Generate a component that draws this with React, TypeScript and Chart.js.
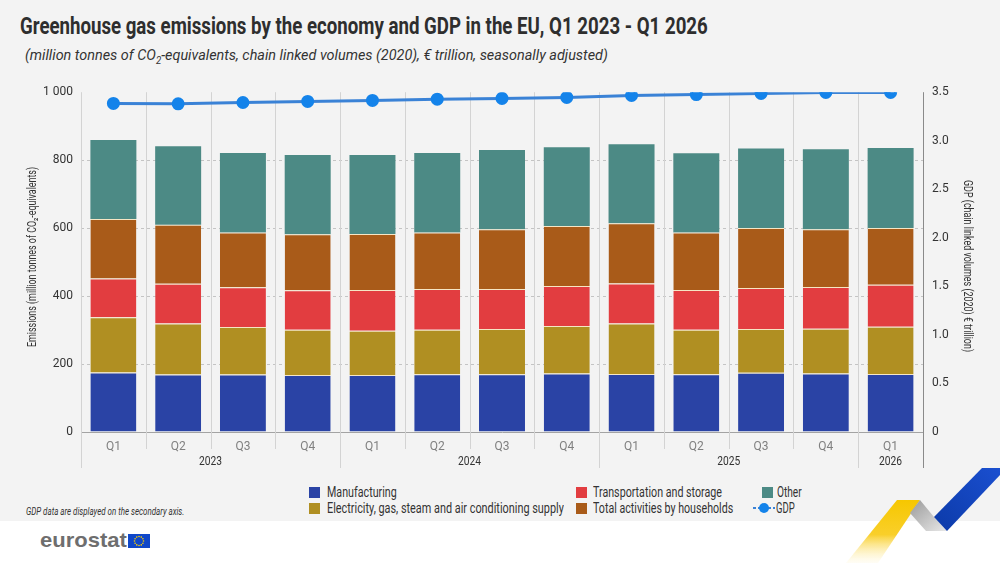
import React, { useEffect, useLayoutEffect, useRef } from "react";
import { Chart, registerables } from "chart.js";

Chart.register(...registerables);

const FONT = 'Roboto, "Noto Sans", sans-serif';

// ---- data ----
const quarters = ["Q1", "Q2", "Q3", "Q4", "Q1", "Q2", "Q3", "Q4", "Q1", "Q2", "Q3", "Q4", "Q1"];
const years = ["2023", "2024", "2025", "2026"];
const yearSpans = [4, 4, 4, 1];
const manufacturing = [175, 169, 169, 168, 168, 170, 170, 172, 171, 170, 174, 172, 171];
const electricity = [163, 150, 140, 133, 130, 131, 133, 140, 148, 131, 129, 132, 139];
const transport = [114, 117, 117, 116, 120, 120, 118, 118, 118, 117, 121, 123, 123];
const households = [175, 174, 161, 165, 165, 166, 176, 176, 177, 169, 176, 170, 167];
const other = [232, 231, 234, 233, 232, 234, 233, 232, 233, 233, 234, 235, 236];
const gdp = [3.384, 3.38, 3.394, 3.405, 3.415, 3.428, 3.436, 3.446, 3.466, 3.476, 3.487, 3.497, 3.497];

const COLORS = {
  manufacturing: "#2a43a5",
  electricity: "#b08f22",
  transport: "#e23d40",
  households: "#a95b19",
  other: "#4c8a85",
  gdpLine: "#3a82d6",
  gdpPoint: "#1483ea",
};

const SEP = "#f6e6c4";
const CANVAS_TOP = 76;

function drawFitted(ctx: any, text: string, target: number) {
  const w = ctx.measureText(text).width;
  const s = w > 0 ? target / w : 1;
  ctx.save();
  ctx.scale(s, 1);
  ctx.fillText(text, 0, 0);
  ctx.restore();
}

const decorPlugin = {
  id: "decor",
  beforeDatasetsDraw(chart: any) {
    const { ctx, chartArea, scales } = chart;
    const x = scales.x;
    const n = quarters.length;
    const bounds: number[] = [];
    for (let i = 0; i <= n; i++) {
      if (i === 0) bounds.push(chartArea.left);
      else if (i === n) bounds.push(chartArea.right);
      else bounds.push((x.getPixelForValue(i - 1) + x.getPixelForValue(i)) / 2);
    }
    const yearBounds = new Set<number>();
    let acc = 0;
    yearBounds.add(0);
    yearSpans.forEach((s) => {
      acc += s;
      yearBounds.add(acc);
    });
    ctx.save();
    ctx.lineWidth = 1;
    bounds.forEach((bx, i) => {
      if (i === n) return;
      ctx.strokeStyle = "#d3d3d3";
      ctx.beginPath();
      const px = Math.round(bx) + 0.5;
      ctx.moveTo(px, chartArea.top);
      ctx.lineTo(px, yearBounds.has(i) ? chartArea.bottom + 36 : chartArea.bottom + 17);
      ctx.stroke();
    });
    ctx.restore();
  },
  afterDraw(chart: any) {
    const { ctx, chartArea, scales } = chart;
    const x = scales.x;
    const n = quarters.length;
    ctx.save();
    ctx.strokeStyle = "#8a8a8a";
    ctx.lineWidth = 1;
    ctx.beginPath();
    const rx = Math.round(chartArea.right) + 0.5;
    ctx.moveTo(rx, chartArea.top);
    ctx.lineTo(rx, chartArea.bottom + 36);
    ctx.stroke();
    ctx.fillStyle = "#333333";
    ctx.font = `13px ${FONT}`;
    ctx.textAlign = "center";
    ctx.textBaseline = "middle";
    let start = 0;
    years.forEach((yr, k) => {
      const end = start + yearSpans[k];
      const l = start === 0 ? chartArea.left : (x.getPixelForValue(start - 1) + x.getPixelForValue(start)) / 2;
      const r = end === n ? chartArea.right : (x.getPixelForValue(end - 1) + x.getPixelForValue(end)) / 2;
      ctx.save();
      ctx.translate((l + r) / 2, chartArea.bottom + 30);
      drawFitted(ctx, yr, 23);
      ctx.restore();
      start = end;
    });
    ctx.font = `12px ${FONT}`;
    ctx.fillStyle = "#333333";
    ctx.save();
    ctx.translate(33, 257 - CANVAS_TOP);
    ctx.rotate(-Math.PI / 2);
    drawFitted(ctx, "Emissions (million tonnes of CO\u2082-equivalents)", 180);
    ctx.restore();
    ctx.save();
    ctx.translate(967, 266 - CANVAS_TOP);
    ctx.rotate(Math.PI / 2);
    drawFitted(ctx, "GDP (chain linked volumes (2020) \u20ac trillion)", 172);
    ctx.restore();
    ctx.restore();
  },
};

function ChartCanvas() {
  const ref = useRef<HTMLCanvasElement | null>(null);
  useEffect(() => {
    if (!ref.current) return;
    Chart.defaults.font.family = FONT;
    const barCommon = {
      type: "bar" as const,
      yAxisID: "y",
      stack: "s",
      order: 2,
      barPercentage: 0.71,
      categoryPercentage: 1,
      borderColor: SEP,
      borderSkipped: false as const,
    };
    const sepBorder = { top: 1, bottom: 0, left: 0, right: 0 };
    const chart = new Chart(ref.current, {
      type: "bar",
      data: {
        labels: quarters,
        datasets: [
          { ...barCommon, label: "Manufacturing", data: manufacturing, backgroundColor: COLORS.manufacturing, borderWidth: sepBorder },
          { ...barCommon, label: "Electricity, gas, steam and air conditioning supply", data: electricity, backgroundColor: COLORS.electricity, borderWidth: sepBorder },
          { ...barCommon, label: "Transportation and storage", data: transport, backgroundColor: COLORS.transport, borderWidth: sepBorder },
          { ...barCommon, label: "Total activities by households", data: households, backgroundColor: COLORS.households, borderWidth: sepBorder },
          { ...barCommon, label: "Other", data: other, backgroundColor: COLORS.other, borderWidth: 0 },
          {
            type: "line",
            label: "GDP",
            data: gdp,
            yAxisID: "y1",
            order: 0,
            borderColor: COLORS.gdpLine,
            backgroundColor: COLORS.gdpPoint,
            pointBackgroundColor: COLORS.gdpPoint,
            pointBorderColor: COLORS.gdpPoint,
            borderWidth: 3,
            pointRadius: 5,
            tension: 0,
          } as any,
        ],
      },
      options: {
        responsive: true,
        maintainAspectRatio: false,
        animation: false,
        layout: { padding: { top: 5, left: 0, right: 0, bottom: 0 } },
        plugins: { legend: { display: false }, tooltip: { enabled: false } },
        scales: {
          x: {
            stacked: true,
            grid: { display: false, drawTicks: false },
            border: { display: true, color: "#a3a3a3" },
            ticks: { color: "#808080", font: { size: 12, family: FONT }, padding: 8 },
            afterFit: (s: any) => {
              s.height = 48;
            },
          },
          y: {
            position: "left",
            stacked: true,
            min: 0,
            max: 1000,
            ticks: {
              stepSize: 200,
              color: "#333333",
              font: { size: 12, family: FONT },
              padding: 8,
              callback: (v: any) => (Number(v) >= 1000 ? String(v).replace(/\B(?=(\d{3})+(?!\d))/g, " ") : String(v)),
            },
            grid: {
              drawTicks: false,
              color: (c: any) => (c.tick && (c.tick.value === 0 || c.tick.value === 1000) ? "rgba(0,0,0,0)" : "#c4c4c4"),
            },
            border: { display: false, dash: [3, 3] },
            afterFit: (s: any) => {
              s.width = 81;
            },
          },
          y1: {
            position: "right",
            min: 0,
            max: 3.5,
            ticks: {
              stepSize: 0.5,
              color: "#333333",
              font: { size: 12, family: FONT },
              padding: 9,
              callback: (v: any) => (Number(v) === 0 ? "0" : Number(v).toFixed(1)),
            },
            grid: { display: false, drawTicks: false },
            border: { display: false },
            afterFit: (s: any) => {
              s.width = 77;
            },
          },
        },
      },
      plugins: [decorPlugin],
    });
    return () => chart.destroy();
  }, []);
  return <canvas ref={ref} />;
}

function FitText({ x, y, w, style, children }: { x: number; y: number; w: number; style?: any; children: any }) {
  const ref = useRef<HTMLDivElement | null>(null);
  useLayoutEffect(() => {
    const el = ref.current;
    if (!el) return;
    el.style.transform = "none";
    const cw = el.offsetWidth;
    if (cw > 0) el.style.transform = `scaleX(${w / cw})`;
  });
  return (
    <div
      ref={ref}
      style={{ position: "absolute", left: x, top: y, whiteSpace: "nowrap", transformOrigin: "0 0", fontFamily: FONT, ...style }}
    >
      {children}
    </div>
  );
}

function LegendItem({ color, label, x, tx, y, w, line }: { color: string; label: string; x: number; tx: number; y: number; w: number; line?: boolean }) {
  return (
    <>
      {line ? (
        <svg width={22} height={12} style={{ position: "absolute", left: x, top: y - 6 }}>
          <line x1={0} y1={6} x2={22} y2={6} stroke={COLORS.gdpLine} strokeWidth={2} strokeDasharray="3 2" />
          <circle cx={11} cy={6} r={5} fill={COLORS.gdpPoint} />
        </svg>
      ) : (
        <div style={{ position: "absolute", left: x, top: y - 5.5, width: 11, height: 11, background: color }} />
      )}
      <FitText x={tx} y={y - 9} w={w} style={{ fontSize: 15, color: "#333", lineHeight: "18px" }}>
        {label}
      </FitText>
    </>
  );
}

export default function App() {
  return (
    <div style={{ position: "absolute", left: 0, top: 0, width: 1000, height: 563, background: "#ffffff", overflow: "hidden", fontFamily: FONT }}>
      <div style={{ position: "absolute", left: 0, top: 0, width: 1000, height: 521, background: "#f3f3f3" }} />
      <FitText x={20} y={12} w={688} style={{ fontSize: 24, fontWeight: "bold", color: "#2e2e2e" }}>
        Greenhouse gas emissions by the economy and GDP in the EU, Q1 2023 - Q1 2026
      </FitText>
      <FitText x={25} y={46} w={583} style={{ fontSize: 15, fontStyle: "italic", color: "#333" }}>
        (million tonnes of CO<sub style={{ fontSize: 10, lineHeight: 0 }}>2</sub>-equivalents, chain linked volumes (2020), € trillion, seasonally adjusted)
      </FitText>
      <div style={{ position: "absolute", left: 0, top: CANVAS_TOP, width: 1000, height: 480 - CANVAS_TOP }}>
        <ChartCanvas />
      </div>
      <LegendItem color={COLORS.manufacturing} label="Manufacturing" x={309} tx={327} y={492} w={70} />
      <LegendItem color={COLORS.electricity} label="Electricity, gas, steam and air conditioning supply" x={309} tx={327} y={508} w={237} />
      <LegendItem color={COLORS.transport} label="Transportation and storage" x={576} tx={593} y={492} w={129} />
      <LegendItem color={COLORS.households} label="Total activities by households" x={576} tx={593} y={508} w={140} />
      <LegendItem color={COLORS.other} label="Other" x={762} tx={777} y={492} w={25} />
      <LegendItem color={COLORS.gdpPoint} label="GDP" x={753} tx={776} y={508} w={19} line />
      <FitText x={26} y={506} w={158} style={{ fontSize: 10, fontStyle: "italic", color: "#333", lineHeight: "12px" }}>
        GDP data are displayed on the secondary axis.
      </FitText>
      <FitText x={40} y={528} w={87} style={{ fontSize: 21, fontWeight: "bold", color: "#6e6e6e", fontFamily: '"Liberation Sans", Arial, sans-serif', lineHeight: "24px" }}>
        eurostat
      </FitText>
      <svg style={{ position: "absolute", left: 0, top: 0 }} width={1000} height={563}>
        <defs>
          <linearGradient id="yel" x1="0" y1="0" x2="0" y2="1">
            <stop offset="0" stopColor="#f6c700" />
            <stop offset="0.55" stopColor="#f9cf2a" />
            <stop offset="1" stopColor="#fff6d0" stopOpacity="0.2" />
          </linearGradient>
          <linearGradient id="gry" x1="0" y1="0" x2="1" y2="1">
            <stop offset="0" stopColor="#9a9a9a" />
            <stop offset="1" stopColor="#e8e8e8" />
          </linearGradient>
          <linearGradient id="blu" x1="1" y1="0" x2="0" y2="1">
            <stop offset="0" stopColor="#1a4fd0" />
            <stop offset="1" stopColor="#0c3aa8" />
          </linearGradient>
        </defs>
        <rect x={128} y={534} width={22} height={14} fill="#0f47c9" />
        {Array.from({ length: 12 }).map((_, i) => {
          const a = (i / 12) * Math.PI * 2;
          return <circle key={i} cx={139 + Math.cos(a) * 4.5} cy={541 + Math.sin(a) * 4.5} r={0.8} fill="#ffd200" />;
        })}
        <polygon points="897,500 920,500 878,563 846,563" fill="url(#yel)" />
        <polygon points="920,500 934,517 947,531 926,531 910,513" fill="url(#gry)" />
        <polygon points="982,468 1000,468 1000,475 947,531 934,517" fill="url(#blu)" />
      </svg>
    </div>
  );
}
